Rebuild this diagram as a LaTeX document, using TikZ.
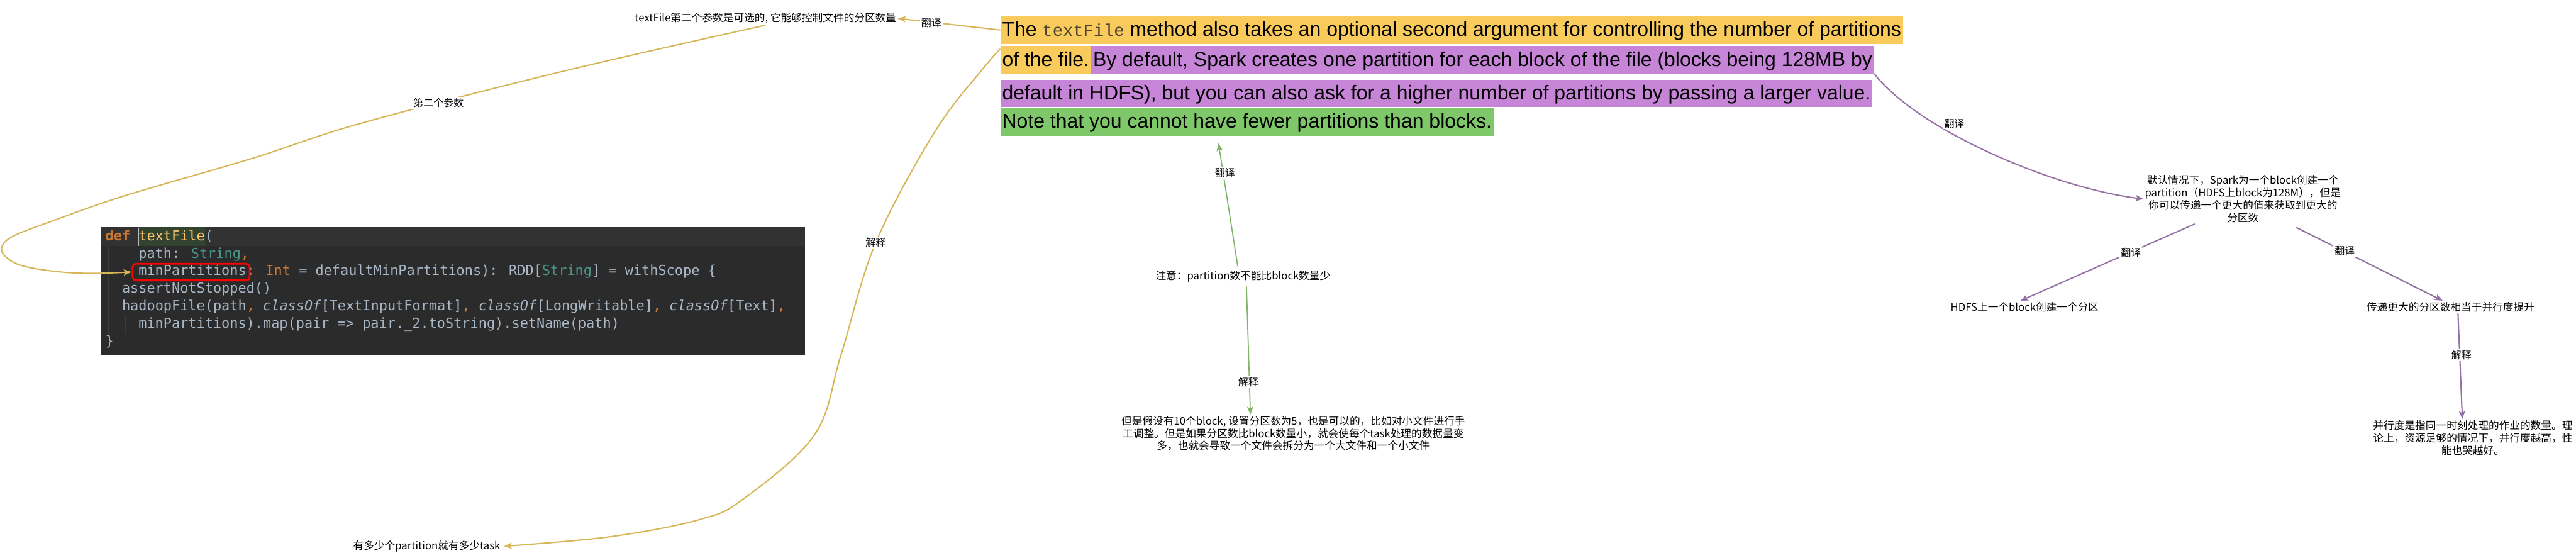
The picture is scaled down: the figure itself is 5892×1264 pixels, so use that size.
\documentclass[tikz,border=0pt]{standalone}
\usepackage{fontspec}
\setmainfont{Liberation Sans}
\newfontfamily\cjk{Noto Sans CJK SC}
\newfontfamily\codefont{DejaVu Sans Mono}
\newfontfamily\inlinemono{Liberation Mono}
\usetikzlibrary{arrows.meta,calc}
\definecolor{hlyel}{HTML}{F9CB5C}
\definecolor{hlpur}{HTML}{C785D8}
\definecolor{hlgrn}{HTML}{7FC86A}
\definecolor{lyel}{HTML}{D6B656}
\definecolor{lpur}{HTML}{9673A6}
\definecolor{lgrn}{HTML}{82B366}
\definecolor{codebg}{HTML}{2B2B2B}
\definecolor{codecur}{HTML}{323232}
\definecolor{codehl}{HTML}{32432F}
\definecolor{codeguide}{HTML}{3B3B3B}
\definecolor{ckw}{HTML}{CC7832}
\definecolor{cfn}{HTML}{FFC66D}
\definecolor{cnorm}{HTML}{A9B7C6}
\definecolor{cty}{HTML}{4B9587}
\definecolor{monoc}{HTML}{4D4331}
\tikzset{
  hl/.style={inner xsep=4pt, inner ysep=8pt, text height=38pt, text depth=9pt, anchor=north west, font=\fontsize{46}{50}\selectfont},
  lbl/.style={font=\cjk\fontsize{24}{28.5}\selectfont, align=center, inner sep=3pt},
  elbl/.style={font=\cjk\fontsize{23}{23}\selectfont, fill=white, inner sep=3pt},
  cl/.style={anchor=base west, inner sep=0pt, text=cnorm, font=\codefont\fontsize{31.5}{40}\selectfont},
  yl/.style={draw=lyel, line width=3pt},
  pl/.style={draw=lpur, line width=3pt},
  gl/.style={draw=lgrn, line width=2.5pt},
  arr/.style={-{Stealth[length=18pt,width=14pt,inset=4pt]}},
}
\newcommand\kw[1]{\textcolor{ckw}{#1}}
\newcommand\ty[1]{\textcolor{cty}{#1}}
\begin{document}
\begin{tikzpicture}[x=1pt,y=-1pt]
\useasboundingbox (0,0) rectangle (5892,1264);
\fill[white] (0,0) rectangle (5892,1264);

% ---------- paragraph ----------
\node[hl, fill=hlyel] (p1) at (2288,37) {The {\inlinemono\fontsize{39}{39}\selectfont\textcolor{monoc}{textFile}} method also takes an optional second argument for controlling the number of partitions};
\node[hl, fill=hlyel] (p2a) at (2288,105) {of the file.};
\node[hl, fill=hlpur] (p2b) at (p2a.north east) {By default, Spark creates one partition for each block of the file (blocks being 128MB by};
\node[hl, fill=hlpur] (p3) at (2288,182) {default in HDFS), but you can also ask for a higher number of partitions by passing a larger value.};
\node[hl, fill=hlgrn] (p4) at (2288,247) {Note that you cannot have fewer partitions than blocks.};

% ---------- code block ----------
\node[fill=codebg, minimum width=1611pt, minimum height=293pt, inner sep=0pt, anchor=north west] (code) at (230,520) {};
\fill[codecur] (230,520) rectangle (1841,562);
\fill[codehl] (317,520) rectangle (469,562);
\fill[white!73!black] (315,522) rectangle (318,562);
\draw[codeguide, line width=2pt] (248,562) -- (248,764);
\draw[codeguide, line width=2pt] (287,722) -- (287,764);
\node[cl] (c1) at (241,550) {\kw{\bfseries def} \textcolor{cfn}{textFile}(};
\node[cl] (c2) at (316.8,590) {path: \ty{String}\kw{,}};
\node[cl] (c3) at (316.8,630) {minPartitions: \kw{Int} = defaultMinPartitions): RDD[\ty{String}] = withScope \{};
\node[cl] (c4) at (278.9,670) {assertNotStopped()};
\node[cl] (c5) at (278.9,710) {hadoopFile(path\kw{,} \textit{classOf}[TextInputFormat]\kw{,} \textit{classOf}[LongWritable]\kw{,} \textit{classOf}[Text]\kw{,}};
\node[cl] (c6) at (316.8,750) {minPartitions).map(pair => pair.\_2.toString).setName(path)};
\node[cl] (c7) at (241,790) {\}};
\node[draw=red, line width=4pt, rounded corners=8pt, minimum width=268pt, minimum height=38pt, inner sep=0pt] (mp) at (437,622) {};

% ---------- labels ----------
\node[lbl] (n1) at (1751,42) {textFile第二个参数是可选的, 它能够控制文件的分区数量};
\node[lbl, inner xsep=8pt] (n2) at (976,1249) {有多少个partition就有多少task};
\node[lbl, inner ysep=10pt] (n3) at (2843,632) {注意：partition数不能比block数量少};
\node[lbl] (n4) at (2958,991) {但是假设有10个block, 设置分区数为5，也是可以的，比如对小文件进行手\\工调整。但是如果分区数比block数量小，就会使每个task处理的数据量变\\多，也就会导致一个文件会拆分为一个大文件和一个小文件};
\node[lbl] (n5) at (5130,455) {默认情况下，Spark为一个block创建一个\\partition（HDFS上block为128M），但是\\你可以传递一个更大的值来获取到更大的\\分区数};
\node[lbl] (n6) at (4631,702) {HDFS上一个block创建一个分区};
\node[lbl] (n7) at (5605,702) {传递更大的分区数相当于并行度提升};
\node[lbl] (n8) at (5656,1001) {并行度是指同一时刻处理的作业的数量。理\\论上，资源足够的情况下，并行度越高，性\\能也哭越好。};

% ---------- connectors ----------
\coordinate (y3s) at ($(p2a.north west)+(0,7)$);
\draw[yl, arr] (p1.west) -- (n1.east);
\draw[yl, arr] plot[smooth, tension=0.6] coordinates {(n1.south) (1300,160) (832,280) (574,363) (287,447) (115,507) (30,540) (4,565) (14,588) (52,608) (130,621) (210,625) (mp.west)};
\draw[yl, arr] plot[smooth, tension=0.6] coordinates {(y3s) (2250,155) (2139,300) (2003,555) (1924,810) (1863,994) (1700,1141) (1600,1188) (1397,1227) (n2.east)};

\draw[gl, arr] ($(n3.north)+(-12,0)$) -- ($(p4.south west)+(499,17)$);
\draw[gl, arr] ($(n3.south)+(8,0)$) -- ($(n4.north)+(-98,0)$);

\draw[pl, arr] (p2b.south east) .. controls (4390,300) and (4700,430) .. (n5.west);
\draw[pl, arr] ($(n5.south)+(-110,0)$) -- ($(n6.north)+(-10,0)$);
\draw[pl, arr] ($(n5.south)+(122,8)$) -- ($(n7.north)+(-18,0)$);
\draw[pl, arr] ($(n7.south)+(17,0)$) -- ($(n8.north)+(-24,0)$);

% ---------- edge labels ----------
\node[elbl] (e1) at (2130,52) {翻译};
\node[elbl] (e2) at (1003,235) {第二个参数};
\node[elbl] (e3) at (2003,555) {解释};
\node[elbl] (e4) at (2802,395) {翻译};
\node[elbl] (e5) at (2855,874) {解释};
\node[elbl] (e6) at (4470,282) {翻译};
\node[elbl] (e7) at (4874,577) {翻译};
\node[elbl] (e8) at (5363,573) {翻译};
\node[elbl] (e9) at (5630,812) {解释};
\end{tikzpicture}
\end{document}
